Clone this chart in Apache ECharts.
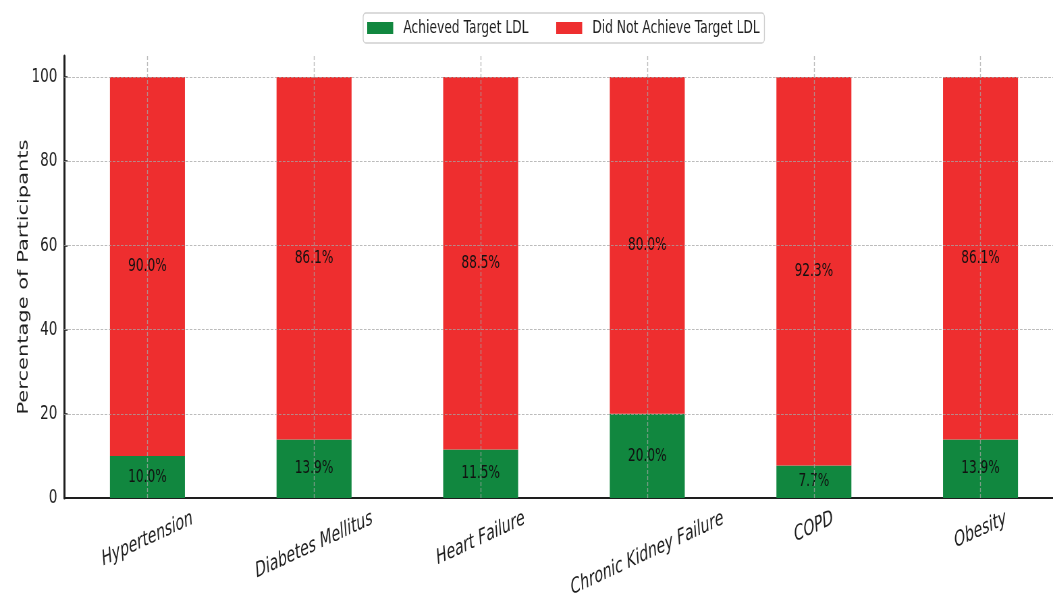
<!DOCTYPE html>
<html>
<head>
<meta charset="utf-8">
<title>LDL target achievement by comorbidity</title>
<script src="https://cdn.jsdelivr.net/npm/echarts@6/dist/echarts.min.js"></script>
<style>
  html, body { margin: 0; padding: 0; background: #ffffff; overflow: hidden; }
  #chart {
    width: 1560px;
    height: 598px;
    transform: scaleX(0.675);
    transform-origin: 0 0;
  }
</style>
</head>
<body>
<div id="chart"></div>
<script>
// Comorbidity groups on the x axis
const categories = ['Hypertension', 'Diabetes Mellitus', 'Heart Failure', 'Chronic Kidney Failure', 'COPD', 'Obesity'];
// Share of participants (%) per group
const achieved = [10.0, 13.9, 11.5, 20.0, 7.7, 13.9];
const notAchieved = [90.0, 86.1, 88.5, 80.0, 92.3, 86.1];
// Y axis ticks
const yTicks = [0, 20, 40, 60, 80, 100];

const FONT = '"DejaVu Sans", "Noto Sans", sans-serif';
const GREEN = '#11873f';
const RED = '#ee2e2f';
const INK = '#1e1e1e';

// Rotated x labels: keep every label's top edge on the same line, like
// top-anchored rotated text, by nudging each one down by half of its extra height.
const X_FONT_SIZE = 21;
const X_ROT = 17.5;
const th = X_ROT * Math.PI / 180;
const measureCtx = document.createElement('canvas').getContext('2d');
measureCtx.font = 'italic ' + X_FONT_SIZE + 'px ' + FONT;
const widths = categories.map(c => measureCtx.measureText(c).width);
const minW = Math.min.apply(null, widths);
const xRich = {};
categories.forEach((c, i) => {
  const s = (widths[i] - minW) * Math.sin(th) / 2;
  xRich['c' + i] = {
    fontFamily: FONT,
    fontStyle: 'italic',
    fontSize: X_FONT_SIZE,
    lineHeight: X_FONT_SIZE,
    color: INK,
    padding: [2 * s * Math.cos(th), 2 * s * Math.sin(th), 0, 0]
  };
});
const hMin = minW * Math.sin(th) + X_FONT_SIZE * Math.cos(th);

// Dashed grid drawn above the bars
const gridLines = [];
categories.forEach((c, i) => {
  gridLines.push({ xAxis: i, lineStyle: { width: 1.4 } });
});
yTicks.filter(v => v > 0).forEach(v => {
  gridLines.push({ yAxis: v, lineStyle: { width: 1 } });
});

const chart = echarts.init(document.getElementById('chart'), null, { renderer: 'canvas' });

const fmtPct = p => p.value.toFixed(1) + '%';

chart.setOption({
  animation: false,
  backgroundColor: '#ffffff',
  textStyle: { fontFamily: FONT },
  grid: { left: 95, right: -16, top: 56, bottom: 100, containLabel: false, outerBoundsMode: 'none' },
  legend: {
    data: ['Achieved Target LDL', 'Did Not Achieve Target LDL'],
    left: 538,
    top: 13,
    orient: 'horizontal',
    icon: 'rect',
    itemWidth: 38.5,
    itemHeight: 12,
    itemGap: 41,
    padding: [5, 7, 5, 6],
    borderColor: '#cfcfcf',
    borderWidth: 1.3,
    borderRadius: 4,
    backgroundColor: '#ffffff',
    selectedMode: false,
    textStyle: {
      fontFamily: FONT,
      fontSize: 18.2,
      lineHeight: 20,
      color: INK,
      padding: [0, 0, 0, 10]
    }
  },
  xAxis: {
    type: 'category',
    data: categories,
    boundaryGap: true,
    axisLine: { show: true, lineStyle: { color: INK, width: 2 } },
    axisTick: { show: true, inside: true, alignWithLabel: true, length: 5, lineStyle: { color: INK, width: 1.5 } },
    splitLine: { show: false },
    axisLabel: {
      interval: 0,
      hideOverlap: false,
      rotate: X_ROT,
      align: 'center',
      verticalAlign: 'middle',
      margin: 10 + hMin / 2,
      formatter: (v, i) => '{c' + i + '|' + v + '}',
      rich: xRich
    }
  },
  yAxis: {
    type: 'value',
    min: 0,
    max: 105,
    interval: 20,
    name: 'Percentage of Participants',
    nameLocation: 'middle',
    nameGap: 49,
    nameMoveOverlap: false,
    nameTextStyle: { fontFamily: FONT, fontSize: 21, color: INK },
    axisLine: { show: true, lineStyle: { color: INK, width: 3 } },
    axisTick: { show: true, inside: true, length: 5, customValues: yTicks, lineStyle: { color: INK, width: 1.5 } },
    splitLine: { show: false },
    axisLabel: {
      customValues: yTicks,
      margin: 10,
      fontFamily: FONT,
      fontSize: 20,
      color: INK,
      formatter: v => (yTicks.indexOf(v) >= 0 ? String(v) : '')
    }
  },
  series: [
    {
      name: 'Achieved Target LDL',
      type: 'bar',
      stack: 'total',
      barWidth: '45%',
      data: achieved,
      itemStyle: { color: GREEN },
      label: { show: true, position: 'inside', formatter: fmtPct, fontFamily: FONT, fontSize: 18, color: '#111' }
    },
    {
      name: 'Did Not Achieve Target LDL',
      type: 'bar',
      stack: 'total',
      barWidth: '45%',
      data: notAchieved,
      itemStyle: { color: RED },
      label: { show: true, position: 'inside', formatter: fmtPct, fontFamily: FONT, fontSize: 18, color: '#111' }
    },
    {
      name: 'grid',
      type: 'line',
      data: [],
      z: 10,
      silent: true,
      markLine: {
        silent: true,
        animation: false,
        symbol: ['none', 'none'],
        label: { show: false },
        lineStyle: { color: 'rgba(165,165,165,0.75)', type: [4, 2] },
        data: gridLines
      }
    }
  ]
});
</script>
</body>
</html>
